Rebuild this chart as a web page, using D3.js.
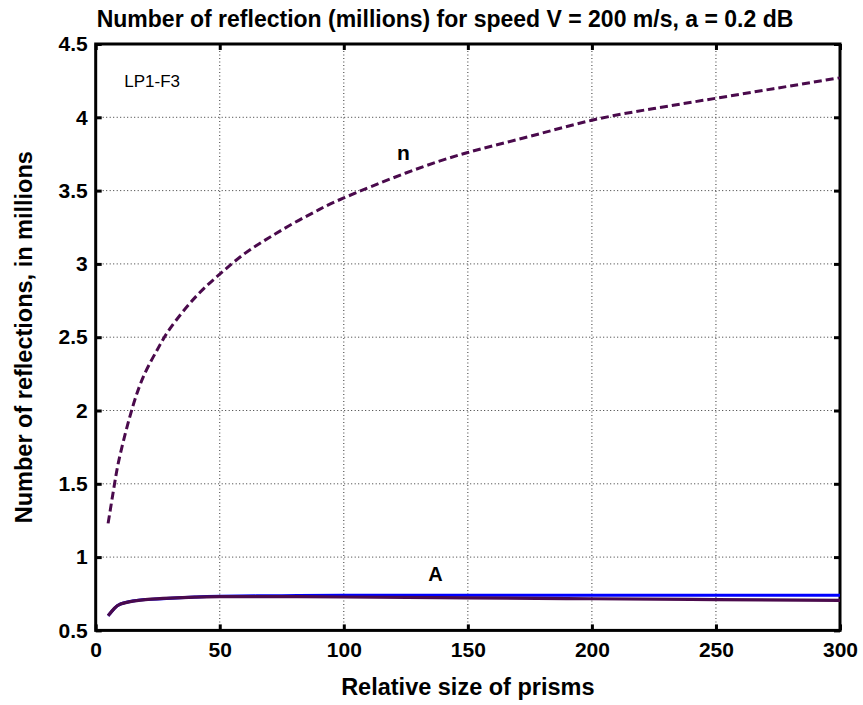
<!DOCTYPE html>
<html>
<head>
<meta charset="utf-8">
<script src="https://cdn.jsdelivr.net/npm/d3@7"></script>
<style>
  html, body { margin: 0; padding: 0; background: #fff; }
  svg { display: block; }
  text { font-family: "Liberation Sans", Arial, sans-serif; }
</style>
</head>
<body>
<svg id="chart" width="863" height="705"></svg>
<script>
// ---- data ----
const titleText = "Number of reflection (millions) for speed V = 200 m/s, a = 0.2 dB";
const xLabel = "Relative size of prisms";
const yLabel = "Number of reflections, in millions";
const xTicks = [0, 50, 100, 150, 200, 250, 300];
const yTicks = [0.5, 1, 1.5, 2, 2.5, 3, 3.5, 4, 4.5];

const nX = [5, 7.5, 10, 15, 20, 25, 30, 40, 50, 60, 70, 80, 90, 100, 125, 150, 175, 200, 225, 250, 275, 300];
const nY = [1.23, 1.49, 1.71, 2.03, 2.26, 2.42, 2.56, 2.77, 2.93, 3.07, 3.18, 3.28, 3.37, 3.45, 3.62, 3.76, 3.87, 3.98, 4.06, 4.13, 4.20, 4.27];

const aX = [5, 7.5, 10, 15, 20, 30, 40, 50, 75, 100, 150, 200, 250, 300];
const aBlue = [0.60, 0.65, 0.68, 0.70, 0.71, 0.72, 0.728, 0.733, 0.737, 0.739, 0.740, 0.740, 0.740, 0.740];
const aPurple = [0.60, 0.65, 0.68, 0.70, 0.71, 0.72, 0.727, 0.730, 0.730, 0.728, 0.722, 0.716, 0.710, 0.705];

const annotations = [
  { text: "LP1-F3", x: 11.5, y: 4.21, size: 17, weight: "normal" },
  { text: "n", x: 121.4, y: 3.71, size: 21, weight: "bold" },
  { text: "A", x: 134, y: 0.84, size: 20, weight: "bold" }
];

// ---- layout ----
const W = 863, H = 705;
const margin = { left: 95.7, right: 23, top: 44, bottom: 74.6 };
const svg = d3.select("#chart");
const x = d3.scaleLinear().domain([0, 300]).range([margin.left, W - margin.right]);
const y = d3.scaleLinear().domain([0.5, 4.5]).range([H - margin.bottom, margin.top]);
const pw = x(300) - x(0), ph = y(0.5) - y(4.5);

// grid
const grid = svg.append("g");
grid.selectAll("line.vx").data(xTicks.slice(1, -1)).enter().append("line")
  .attr("x1", d => x(d)).attr("x2", d => x(d))
  .attr("y1", y(4.5)).attr("y2", y(0.5))
  .attr("stroke", "#333").attr("stroke-width", 1).attr("stroke-dasharray", "1,2.5");
grid.selectAll("line.hy").data(yTicks.slice(1, -1)).enter().append("line")
  .attr("y1", d => y(d)).attr("y2", d => y(d))
  .attr("x1", x(0)).attr("x2", x(300))
  .attr("stroke", "#333").attr("stroke-width", 1).attr("stroke-dasharray", "1,2.5");

// axes
const fmt = d => String(d);
const axB = svg.append("g").attr("transform", `translate(0,${y(0.5)})`)
  .call(d3.axisBottom(x).tickValues(xTicks).tickFormat(fmt).tickSizeInner(-6).tickSizeOuter(0).tickPadding(12));
const axL = svg.append("g").attr("transform", `translate(${x(0)},0)`)
  .call(d3.axisLeft(y).tickValues(yTicks).tickFormat(fmt).tickSizeInner(-6).tickSizeOuter(0).tickPadding(8));
const axT = svg.append("g").attr("transform", `translate(0,${y(4.5)})`)
  .call(d3.axisTop(x).tickValues(xTicks).tickFormat("").tickSizeInner(-6).tickSizeOuter(0));
const axR = svg.append("g").attr("transform", `translate(${x(300)},0)`)
  .call(d3.axisRight(y).tickValues(yTicks).tickFormat("").tickSizeInner(-6).tickSizeOuter(0));
[axB, axL, axT, axR].forEach(a => {
  a.select(".domain").remove();
  a.selectAll(".tick line").attr("stroke", "#000").attr("stroke-width", 3);
  a.selectAll(".tick text").attr("fill", "#000").attr("font-size", 21).attr("font-weight", "bold")
    .attr("font-family", "'Liberation Sans', Arial, sans-serif");
});

// box
svg.append("rect").attr("x", x(0)).attr("y", y(4.5)).attr("width", pw).attr("height", ph)
  .attr("fill", "none").attr("stroke", "#000").attr("stroke-width", 3);

// lines
svg.append("clipPath").attr("id", "clip").append("rect")
  .attr("x", x(0)).attr("y", y(4.5)).attr("width", pw).attr("height", ph);
const line = d3.line().curve(d3.curveNatural);
const plot = svg.append("g").attr("clip-path", "url(#clip)");
plot.append("path").attr("d", line(aX.map((d, i) => [x(d), y(aBlue[i])])))
  .attr("fill", "none").attr("stroke", "#0000ff").attr("stroke-width", 3);
plot.append("path").attr("d", line(aX.map((d, i) => [x(d), y(aPurple[i])])))
  .attr("fill", "none").attr("stroke", "#4a0a4c").attr("stroke-width", 3.2);
plot.append("path").attr("d", line(nX.map((d, i) => [x(d), y(nY[i])])))
  .attr("fill", "none").attr("stroke", "#4a0a4c").attr("stroke-width", 3)
  .attr("stroke-dasharray", "8,4");

// annotations
svg.selectAll("text.ann").data(annotations).enter().append("text")
  .attr("x", d => x(d.x)).attr("y", d => y(d.y))
  .attr("font-size", d => d.size).attr("font-weight", d => d.weight)
  .attr("fill", "#000").text(d => d.text);

// titles
svg.append("text").attr("x", 445).attr("y", 27).attr("text-anchor", "middle")
  .attr("font-size", 23).attr("font-weight", "bold").text(titleText);
svg.append("text").attr("x", (x(0) + x(300)) / 2).attr("y", 695).attr("text-anchor", "middle")
  .attr("font-size", 23.5).attr("font-weight", "bold").text(xLabel);
svg.append("text").attr("transform", `translate(32,${(y(0.5) + y(4.5)) / 2}) rotate(-90)`)
  .attr("text-anchor", "middle")
  .attr("font-size", 23.5).attr("font-weight", "bold").text(yLabel);
</script>
</body>
</html>
